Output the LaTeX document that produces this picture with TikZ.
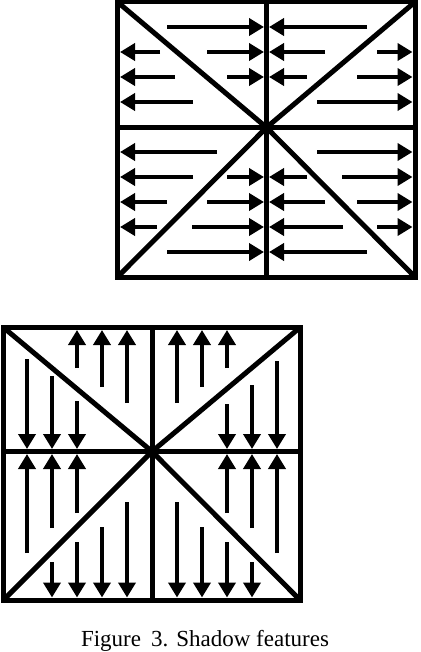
\documentclass[tikz,border=0pt]{standalone}
\usepackage{fontspec}
\setmainfont{Liberation Serif}
\usepackage{tikz}
\usetikzlibrary{arrows.meta,positioning}

\begin{document}
\begin{tikzpicture}[x=1pt, y=-1pt,
    boxline/.style={line width=5pt, line join=miter},
    shadowarrow/.style={line width=4pt, -{Triangle[length=15pt, width=17pt]}}]
    \useasboundingbox[fill=white] (0, 0) rectangle (420, 652);

    % upper square, shadows run sideways
    \coordinate (up-nw) at (117.5, 2);
    \coordinate (up-ne) at (415, 2);
    \coordinate (up-se) at (415, 277);
    \coordinate (up-sw) at (117.5, 277);
    \coordinate (up-c) at (266.5, 127.5);

    \draw[boxline] (up-nw) rectangle (up-se);
    \draw[boxline] (up-c |- up-nw) -- (up-c |- up-sw);
    \draw[boxline] (up-nw |- up-c) -- (up-ne |- up-c);
    \draw[boxline] (up-nw) -- (up-c) -- (up-se);
    \draw[boxline] (up-sw) -- (up-c) -- (up-ne);

    \draw[shadowarrow] (167, 27) -- (264, 27);
    \draw[shadowarrow] (367, 27) -- (269, 27);

    \draw[shadowarrow] (160, 52) -- (120, 52);
    \draw[shadowarrow] (207, 52) -- (264, 52);
    \draw[shadowarrow] (325, 52) -- (269, 52);
    \draw[shadowarrow] (377, 52) -- (412.5, 52);

    \draw[shadowarrow] (175, 77) -- (120, 77);
    \draw[shadowarrow] (227, 77) -- (264, 77);
    \draw[shadowarrow] (307, 77) -- (269, 77);
    \draw[shadowarrow] (357, 77) -- (412.5, 77);

    \draw[shadowarrow] (193, 102) -- (120, 102);
    \draw[shadowarrow] (317, 102) -- (412.5, 102);

    \draw[shadowarrow] (217, 152) -- (120, 152);
    \draw[shadowarrow] (317, 152) -- (412.5, 152);

    \draw[shadowarrow] (193, 177) -- (120, 177);
    \draw[shadowarrow] (227, 177) -- (264, 177);
    \draw[shadowarrow] (307, 177) -- (269, 177);
    \draw[shadowarrow] (342, 177) -- (412.5, 177);

    \draw[shadowarrow] (167, 202) -- (120, 202);
    \draw[shadowarrow] (207, 202) -- (264, 202);
    \draw[shadowarrow] (325, 202) -- (269, 202);
    \draw[shadowarrow] (357, 202) -- (412.5, 202);

    \draw[shadowarrow] (157, 227) -- (120, 227);
    \draw[shadowarrow] (192, 227) -- (264, 227);
    \draw[shadowarrow] (343, 227) -- (269, 227);
    \draw[shadowarrow] (377, 227) -- (412.5, 227);

    \draw[shadowarrow] (167, 252) -- (264, 252);
    \draw[shadowarrow] (367, 252) -- (269, 252);

    % lower square, shadows run up and down
    \coordinate (lo-nw) at (3.5, 327.5);
    \coordinate (lo-ne) at (300, 327.5);
    \coordinate (lo-se) at (300, 600);
    \coordinate (lo-sw) at (3.5, 600);
    \coordinate (lo-c) at (152, 451.5);

    \draw[boxline] (lo-nw) rectangle (lo-se);
    \draw[boxline] (lo-c |- lo-nw) -- (lo-c |- lo-sw);
    \draw[boxline] (lo-nw |- lo-c) -- (lo-ne |- lo-c);
    \draw[boxline] (lo-nw) -- (lo-c) -- (lo-se);
    \draw[boxline] (lo-sw) -- (lo-c) -- (lo-ne);

    \draw[shadowarrow] (27, 359) -- (27, 449);
    \draw[shadowarrow] (27, 553) -- (27, 454);

    \draw[shadowarrow] (52, 376) -- (52, 449);
    \draw[shadowarrow] (52, 528) -- (52, 454);
    \draw[shadowarrow] (52, 562) -- (52, 597.5);

    \draw[shadowarrow] (77, 368) -- (77, 330);
    \draw[shadowarrow] (77, 401) -- (77, 449);
    \draw[shadowarrow] (77, 513) -- (77, 454);
    \draw[shadowarrow] (77, 542) -- (77, 597.5);

    \draw[shadowarrow] (102, 387) -- (102, 330);
    \draw[shadowarrow] (102, 527) -- (102, 597.5);

    \draw[shadowarrow] (127, 403) -- (127, 330);
    \draw[shadowarrow] (127, 502) -- (127, 597.5);

    \draw[shadowarrow] (177, 403) -- (177, 330);
    \draw[shadowarrow] (177, 502) -- (177, 597.5);

    \draw[shadowarrow] (202, 387) -- (202, 330);
    \draw[shadowarrow] (202, 527) -- (202, 597.5);

    \draw[shadowarrow] (227, 368) -- (227, 330);
    \draw[shadowarrow] (227, 404) -- (227, 449);
    \draw[shadowarrow] (227, 513) -- (227, 454);
    \draw[shadowarrow] (227, 542) -- (227, 597.5);

    \draw[shadowarrow] (252, 385) -- (252, 449);
    \draw[shadowarrow] (252, 528) -- (252, 454);
    \draw[shadowarrow] (252, 562) -- (252, 597.5);

    \draw[shadowarrow] (277, 361) -- (277, 449);
    \draw[shadowarrow] (277, 553) -- (277, 454);

    \node[anchor=base, inner sep=0pt, font=\fontsize{23}{27}\selectfont] (caption) at (205, 646.5)
        {Figure\hspace{10pt}3.\hspace{8pt}Shadow features};
  \end{tikzpicture}
\end{document}
